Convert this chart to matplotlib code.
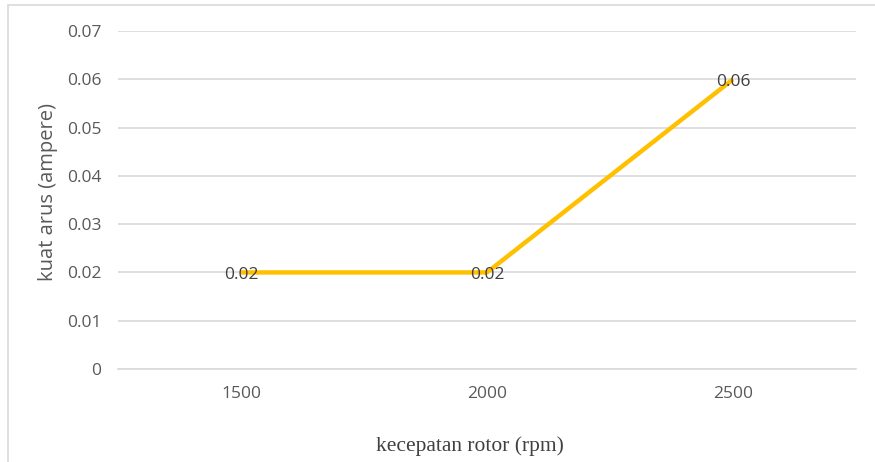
import matplotlib.pyplot as plt
from matplotlib.patches import Rectangle

categories = ['1500', '2000', '2500']
current = [0.02, 0.02, 0.06]
value_labels = ['0.02', '0.02', '0.06']
y_ticks = [0, 0.01, 0.02, 0.03, 0.04, 0.05, 0.06, 0.07]

fig = plt.figure(figsize=(8.75, 4.62), dpi=100)
ax = fig.add_axes([118 / 875, 1 - 369 / 462, 738 / 875, 338 / 462])

xs = range(len(categories))
ax.plot(xs, current, color='#FFC000', linewidth=3.2, solid_capstyle='butt', zorder=3)
for x, y, lab in zip(xs, current, value_labels):
    ax.annotate(lab, (x, y), xytext=(0, -2), textcoords='offset points',
                ha='center', va='center', fontsize=12.5,
                color='#404040', family='Open Sans', zorder=4)

ax.set_xlim(-0.5, len(categories) - 0.5)
ax.set_ylim(0, 0.07)
ax.set_xticks(list(xs))
ax.set_xticklabels(categories)
ax.set_yticks(y_ticks)
ax.set_yticklabels(['0'] + [f'{v:.2f}' for v in y_ticks[1:]])
ax.tick_params(length=0, labelsize=12.5, labelcolor='#595959', pad=12)
ax.tick_params(axis='x', pad=12)
for lab in ax.get_xticklabels() + ax.get_yticklabels():
    lab.set_family('Open Sans')
ax.grid(axis='y', color='#D9D9D9', linewidth=1.2)
ax.set_axisbelow(True)
for s in ax.spines.values():
    s.set_visible(False)
ax.spines['bottom'].set_visible(True)
ax.spines['bottom'].set_color('#D9D9D9')
ax.spines['bottom'].set_linewidth(1.2)

fig.text(48 / 875, 1 - 192 / 462, 'kuat arus (ampere)', rotation=90, ha='center',
         va='center', fontsize=14.5, color='#595959', family='Open Sans')
fig.text(470 / 875, 1 - 446 / 462, 'kecepatan rotor (rpm)', ha='center', va='center',
         fontsize=15.5, color='#404040', family='Liberation Serif')

# outer frame of the chart area
fig.patches.append(Rectangle((8 / 875, -0.1), 1.2, 1 - 5 / 462 + 0.1,
                             transform=fig.transFigure, fill=False,
                             edgecolor='#D9D9D9', linewidth=1.2))

fig.savefig('out.png', dpi=100)
